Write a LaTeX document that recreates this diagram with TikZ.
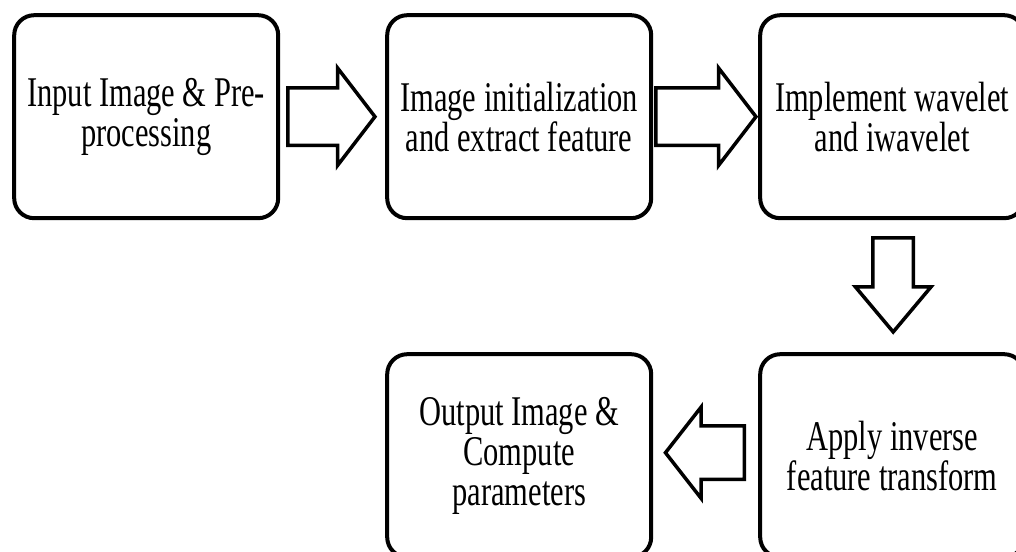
\documentclass[tikz,border=0pt]{standalone}
\usepackage{fontspec}
\setmainfont{Liberation Serif}[FakeStretch=0.72]
\usetikzlibrary{shapes.arrows,calc}

\tikzstyle{stage}=[rectangle,rounded corners=20pt,line width=4pt,draw=black,minimum width=264pt,minimum height=203pt,align=center,font=\fontsize{42.3}{40}\selectfont]
\tikzstyle{blockarrow}=[single arrow,draw=black,line width=3.5pt,fill=white,anchor=tail]

\begin{document}
\begin{tikzpicture}[x=1pt,y=-1pt]
  \useasboundingbox (0,0) rectangle (1016,551);
  \clip (0,0) rectangle (1016,551);
  \matrix (flow) [row sep=132pt,column sep=105pt,inner sep=0pt,anchor=north west] at (12,13) {
    \node (input) [stage] {Input Image \& Pre-\\processing}; &
    \node (init) [stage] {Image initialization\\and extract feature}; &
    \node (wavelet) [stage] {Implement wavelet\\and iwavelet};
    \\
    &
    \node (output) [stage] {Output Image \&\\Compute\\parameters}; &
    \node (inverse) [stage] {Apply inverse\\feature transform};
    \\
  };
  % block arrows between the stages
  \node (toinit) [blockarrow,minimum height=87pt,minimum width=94pt,inner sep=27pt,
    single arrow head extend=20pt,single arrow tip angle=105]
    at ($(input.east)+(6,0)$) {};
  \node (towavelet) [blockarrow,minimum height=100pt,minimum width=94pt,inner sep=27pt,
    single arrow head extend=20pt,single arrow tip angle=105]
    at ($(init.east)+(1,0)$) {};
  \node (toinverse) [blockarrow,shape border rotate=270,minimum height=94pt,minimum width=72pt,inner sep=18.5pt,
    single arrow head extend=17.5pt,single arrow tip angle=80]
    at ($(wavelet.south)+(1,16)$) {};
  \node (tooutput) [blockarrow,shape border rotate=180,minimum height=79pt,minimum width=88pt,inner sep=25pt,
    single arrow head extend=19pt,single arrow tip angle=104]
    at ($(inverse.west)+(-12,-3)$) {};
\end{tikzpicture}
\end{document}
